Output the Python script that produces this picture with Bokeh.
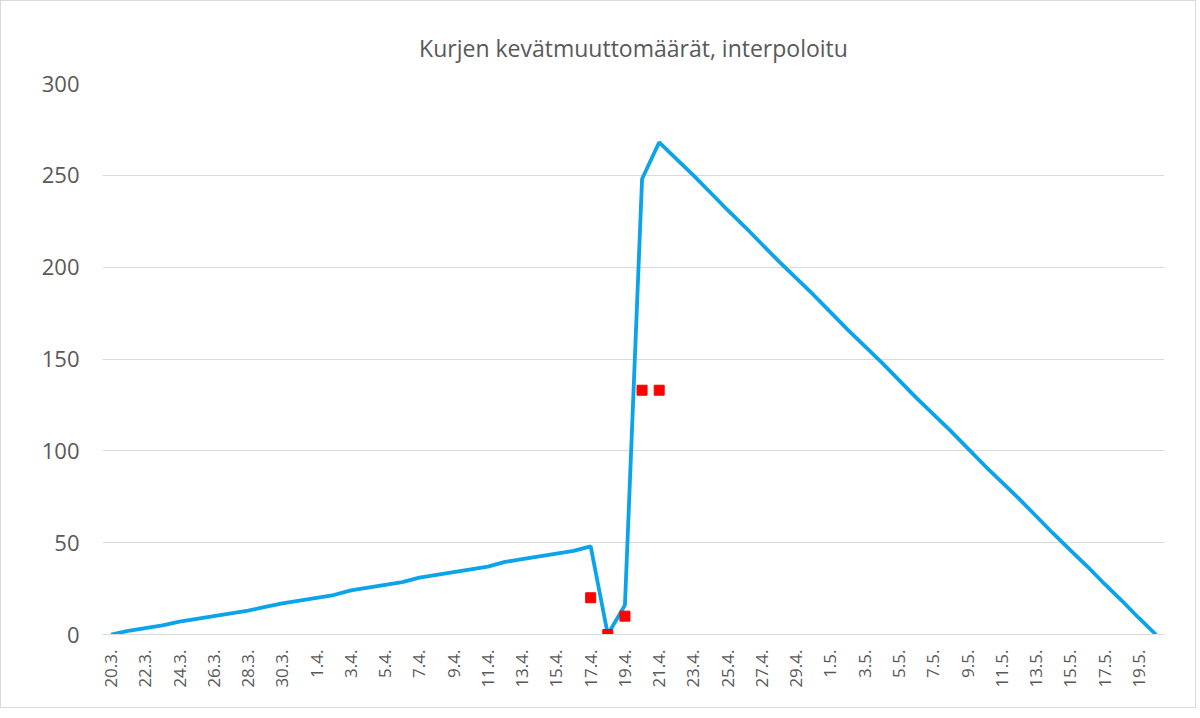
import math
from bokeh.plotting import figure
from bokeh.models import ColumnDataSource, Range1d, FixedTicker
from bokeh.embed import file_html
from bokeh.resources import INLINE

# ---- data ----
march = [f"{d}.3." for d in range(20, 32)]
april = [f"{d}.4." for d in range(1, 31)]
may = [f"{d}.5." for d in range(1, 21)]
dates = march + april + may  # 20.3. ... 20.5.

counts = [0, 2, 3.5, 5, 7, 8.5, 10, 11.5, 13, 15, 17, 18.5,          # 20.3.-31.3.
          20, 21.5, 24, 25.5, 27, 28.5, 31, 32.5, 34, 35.5, 37, 39.5,  # 1.4.-12.4.
          41, 42.5, 44, 45.5, 48, 0, 16, 248, 268,                     # 13.4.-21.4.
          259, 250, 240.5, 231, 222, 212.5, 203, 194, 185,             # 22.4.-30.4.
          175.5, 166, 157, 148, 138.5, 129, 120, 111, 101.5, 92,       # 1.5.-10.5.
          83, 74, 64.5, 55, 46, 37, 27.5, 18.5, 9, 0]                  # 11.5.-20.5.

obs_dates = ["17.4.", "18.4.", "19.4.", "20.4.", "21.4."]
obs_counts = [20, 0, 10, 133, 133]

y_ticks = [0, 50, 100, 150, 200, 250, 300]
title_text = "Kurjen kevätmuuttomäärät, interpoloitu"

# ---- sources ----
idx = list(range(len(dates)))
line_src = ColumnDataSource(dict(x=idx, y=counts))
obs_src = ColumnDataSource(dict(x=[dates.index(d) for d in obs_dates], y=obs_counts))

# ---- figure ----
p = figure(width=1196, height=708, x_range=Range1d(-0.5, len(dates) - 0.5),
           y_range=Range1d(0, 300), output_backend="svg", toolbar_location=None,
           min_border_left=101, min_border_right=33, min_border_top=82,
           min_border_bottom=75)
p.styles = {"border": "1px solid #D9D9D9"}

p.title.text = title_text
p.title.align = "center"
p.title.text_font = "Open Sans"
p.title.text_font_size = "23px"
p.title.text_font_style = "normal"
p.title.text_color = "#595959"
p.title.standoff = 40

p.line("x", "y", source=line_src, line_color="#0BA3EA", line_width=3.8)
p.scatter("x", "y", source=obs_src, marker="square", size=10, color="#FF0000")

p.outline_line_color = None
p.xgrid.grid_line_color = None
p.ygrid.grid_line_color = "#D9D9D9"
p.ygrid.grid_line_width = 1

p.yaxis.ticker = FixedTicker(ticks=y_ticks)
p.yaxis.axis_line_color = None
p.yaxis.major_tick_line_color = None
p.yaxis.minor_tick_line_color = None
p.yaxis.major_tick_out = 0
p.yaxis.major_label_text_font = "Open Sans"
p.yaxis.major_label_text_font_size = "22px"
p.yaxis.major_label_text_color = "#595959"
p.yaxis.major_label_standoff = 23

p.xaxis.ticker = FixedTicker(ticks=idx[::2])
p.xaxis.major_label_overrides = {i: dates[i] for i in idx[::2]}
p.xaxis.axis_line_color = "#D9D9D9"
p.xaxis.major_tick_line_color = None
p.xaxis.minor_tick_line_color = None
p.xaxis.major_tick_out = 0
p.xaxis.major_label_orientation = math.pi / 2
p.xaxis.major_label_text_font = "Open Sans"
p.xaxis.major_label_text_font_size = "17px"
p.xaxis.major_label_text_color = "#595959"
p.xaxis.major_label_standoff = 15

open("out.html", "w").write(file_html(p, INLINE))
